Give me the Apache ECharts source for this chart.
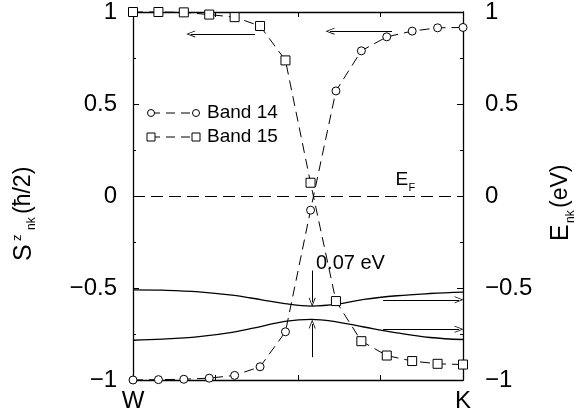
<!DOCTYPE html>
<html><head><meta charset="utf-8">
<script src="https://cdn.jsdelivr.net/npm/echarts@6/dist/echarts.min.js"></script>
<style>html,body{margin:0;padding:0;background:#fff}#c{width:577px;height:420px}</style>
</head><body><div id="c"></div>
<script>
// k-path positions (W = 0, K = 1)
const kPoints = [0, 0.077, 0.154, 0.231, 0.308, 0.385, 0.462, 0.538, 0.615, 0.692, 0.769, 0.846, 0.923, 1];
// S^z_nk values (left axis)
const band14 = [-1, -0.998, -0.996, -0.99, -0.975, -0.928, -0.738, -0.077, 0.571, 0.789, 0.865, 0.896, 0.914, 0.916];
const band15 = [1, 1, 0.998, 0.986, 0.972, 0.924, 0.737, 0.072, -0.571, -0.789, -0.867, -0.897, -0.912, -0.916];
// Energy bands E_nk (right axis, eV)
const energyK = [0, 0.09, 0.2, 0.3, 0.39, 0.46, 0.54, 0.62, 0.7, 0.8, 0.9, 1];
const energyUpper = [-0.510, -0.512, -0.521, -0.539, -0.564, -0.585, -0.598, -0.588, -0.562, -0.542, -0.530, -0.522];
const energyLower = [-0.784, -0.778, -0.764, -0.741, -0.708, -0.681, -0.670, -0.685, -0.712, -0.744, -0.769, -0.780];
// Fermi level
const fermiLevel = 0;
// Annotation arrows [x1, y1, x2, y2] in data units
const arrows = [
  [0.370, 0.881, 0.175, 0.881],
  [0.785, 0.896, 0.597, 0.896],
  [0.758, -0.564, 0.988, -0.564],
  [0.758, -0.724, 0.988, -0.724],
  [0.543, -0.405, 0.543, -0.578],
  [0.543, -0.876, 0.543, -0.696]
];
const xTickLabels = {0: 'W', 1: 'K'};
const gapLabel = '0.07 eV';
const legendNames = ['Band 14', 'Band 15'];

const FONT = "'Liberation Sans', Arial, sans-serif";
const ARROW = 'path://M5,0 L10,10 L8.8,10 L5,2.2 L1.2,10 L0,10 Z';

function fmtY(v) {
  if (v === 0) return '0';
  return (v < 0 ? '\u2212' : '') + Math.abs(v);
}

const chart = echarts.init(document.getElementById('c'), null, {renderer: 'canvas'});

const axisLineStyle = {color: '#000', width: 1.3};

const option = {
  animation: false,
  backgroundColor: '#fff',
  textStyle: {fontFamily: FONT},
  grid: {left: 133, right: 114, top: 10, bottom: 40, containLabel: false},
  xAxis: [
    {
      type: 'value', min: 0, max: 1, interval: 0.25, position: 'bottom',
      axisLine: {onZero: false, lineStyle: axisLineStyle},
      axisTick: {inside: true, length: 5, lineStyle: {color: '#000'}},
      axisLabel: {
        fontSize: 24, color: '#000', margin: 9, fontFamily: FONT,
        formatter: v => (xTickLabels[v] !== undefined ? xTickLabels[v] : '')
      },
      splitLine: {show: false}
    },
    {
      type: 'value', min: 0, max: 1, interval: 0.25, position: 'top',
      axisLine: {onZero: false, lineStyle: axisLineStyle},
      axisTick: {inside: true, length: 5, lineStyle: {color: '#000'}},
      axisLabel: {show: false},
      splitLine: {show: false}
    }
  ],
  yAxis: [
    {
      type: 'value', min: -1, max: 1, interval: 0.5, position: 'left',
      axisLine: {show: true, onZero: false, lineStyle: axisLineStyle},
      axisTick: {show: true, inside: true, length: 6, lineStyle: {color: '#000'}},
      minorTick: {show: true, splitNumber: 2, length: 3, lineStyle: {color: '#000'}},
      axisLabel: {fontSize: 24, color: '#000', margin: 16, fontFamily: FONT, formatter: fmtY},
      splitLine: {show: false}, minorSplitLine: {show: false}
    },
    {
      type: 'value', min: -1, max: 1, interval: 0.5, position: 'right',
      axisLine: {show: true, onZero: false, lineStyle: axisLineStyle},
      axisTick: {show: true, inside: true, length: 6, lineStyle: {color: '#000'}},
      minorTick: {show: true, splitNumber: 2, length: 3, lineStyle: {color: '#000'}},
      axisLabel: {fontSize: 24, color: '#000', margin: 22, fontFamily: FONT, formatter: fmtY},
      splitLine: {show: false}, minorSplitLine: {show: false}
    }
  ],
  series: [
    {
      name: 'E upper', type: 'line', yAxisIndex: 1, smooth: 0.4, showSymbol: false, symbol: 'none',
      silent: true, clip: false,
      lineStyle: {color: '#000', width: 1.3},
      data: energyK.map((k, i) => [k, energyUpper[i]]),
      markLine: {
        silent: true, animation: false,
        symbol: ['none', ARROW], symbolSize: [7, 9],
        lineStyle: {color: '#000', width: 1, type: 'solid'},
        label: {show: false},
        data: arrows.map(a => [{coord: [a[0], a[1]]}, {coord: [a[2], a[3]]}]).concat([
          [{coord: [0, fermiLevel], symbol: 'none', lineStyle: {type: [12, 6], width: 1, color: '#000'}},
           {coord: [1, fermiLevel], symbol: 'none'}]
        ])
      },
      markPoint: {
        silent: true, animation: false,
        symbol: 'circle', symbolSize: 0,
        data: [
          {coord: [0.659, -0.365], label: {show: true, position: 'inside', formatter: gapLabel, color: '#000', fontSize: 20, fontFamily: FONT}},
          {coord: [0.815, 0.089], label: {show: true, position: 'inside', formatter: 'E', color: '#000', fontSize: 19, fontFamily: FONT}},
          {coord: [0.845, 0.045], label: {show: true, position: 'inside', formatter: 'F', color: '#000', fontSize: 11, fontFamily: FONT}}
        ]
      }
    },
    {
      name: 'E lower', type: 'line', yAxisIndex: 1, smooth: 0.4, showSymbol: false, symbol: 'none',
      silent: true, clip: false,
      lineStyle: {color: '#000', width: 1.3},
      data: energyK.map((k, i) => [k, energyLower[i]])
    },
    {
      name: legendNames[0], type: 'line', yAxisIndex: 0, clip: false,
      symbol: 'circle', symbolSize: 8, showAllSymbol: true,
      lineStyle: {color: '#000', width: 1, type: [10, 6]},
      itemStyle: {color: '#fff', borderColor: '#000', borderWidth: 1},
      data: kPoints.map((k, i) => [k, band14[i]]),
      z: 5
    },
    {
      name: legendNames[1], type: 'line', yAxisIndex: 0, clip: false,
      symbol: 'rect', symbolSize: 9, showAllSymbol: true,
      lineStyle: {color: '#000', width: 1, type: [10, 6]},
      itemStyle: {color: '#fff', borderColor: '#000', borderWidth: 1},
      data: kPoints.map((k, i) => [k, band15[i]]),
      z: 5
    }
  ],
  graphic: [
    // legend
    {type: 'line', shape: {x1: 151, y1: 113, x2: 196, y2: 113}, style: {stroke: '#000', lineWidth: 1, lineDash: [9, 6]}},
    {type: 'circle', shape: {cx: 151, cy: 113, r: 3.5}, style: {fill: '#fff', stroke: '#000', lineWidth: 1}},
    {type: 'circle', shape: {cx: 196, cy: 113, r: 3.5}, style: {fill: '#fff', stroke: '#000', lineWidth: 1}},
    {type: 'text', x: 207, y: 113, style: {text: legendNames[0], font: '19px ' + FONT, fill: '#000', verticalAlign: 'middle', align: 'left'}},
    {type: 'line', shape: {x1: 151, y1: 137, x2: 196, y2: 137}, style: {stroke: '#000', lineWidth: 1, lineDash: [9, 6]}},
    {type: 'rect', shape: {x: 147, y: 133, width: 8, height: 8}, style: {fill: '#fff', stroke: '#000', lineWidth: 1}},
    {type: 'rect', shape: {x: 192, y: 133, width: 8, height: 8}, style: {fill: '#fff', stroke: '#000', lineWidth: 1}},
    {type: 'text', x: 207, y: 137, style: {text: legendNames[1], font: '19px ' + FONT, fill: '#000', verticalAlign: 'middle', align: 'left'}},
    // left axis title  S^z_nk(ħ/2)
    {
      type: 'group', x: 24, y: 214, rotation: Math.PI / 2,
      children: [
        {type: 'text', x: -47, y: 0, style: {text: 'S', font: '25px ' + FONT, fill: '#000', verticalAlign: 'middle', align: 'left'}},
        {type: 'text', x: -27, y: -7, style: {text: 'z', font: '13px ' + FONT, fill: '#000', verticalAlign: 'middle', align: 'left'}},
        {type: 'text', x: -16, y: 8, style: {text: 'nk', font: '12px ' + FONT, fill: '#000', verticalAlign: 'middle', align: 'left'}},
        {type: 'text', x: 0, y: 0, style: {text: '(\u0127/2)', font: '23px ' + FONT, fill: '#000', verticalAlign: 'middle', align: 'left'}}
      ]
    },
    // right axis title  E_nk(eV)
    {
      type: 'group', x: 561, y: 204, rotation: Math.PI / 2,
      children: [
        {type: 'text', x: -37, y: 0, style: {text: 'E', font: '25px ' + FONT, fill: '#000', verticalAlign: 'middle', align: 'left'}},
        {type: 'text', x: -19, y: 10, style: {text: 'nk', font: '12px ' + FONT, fill: '#000', verticalAlign: 'middle', align: 'left'}},
        {type: 'text', x: -4, y: 0, style: {text: '(eV)', font: '23px ' + FONT, fill: '#000', verticalAlign: 'middle', align: 'left'}}
      ]
    }
  ]
};
chart.setOption(option);
</script>
</body></html>
